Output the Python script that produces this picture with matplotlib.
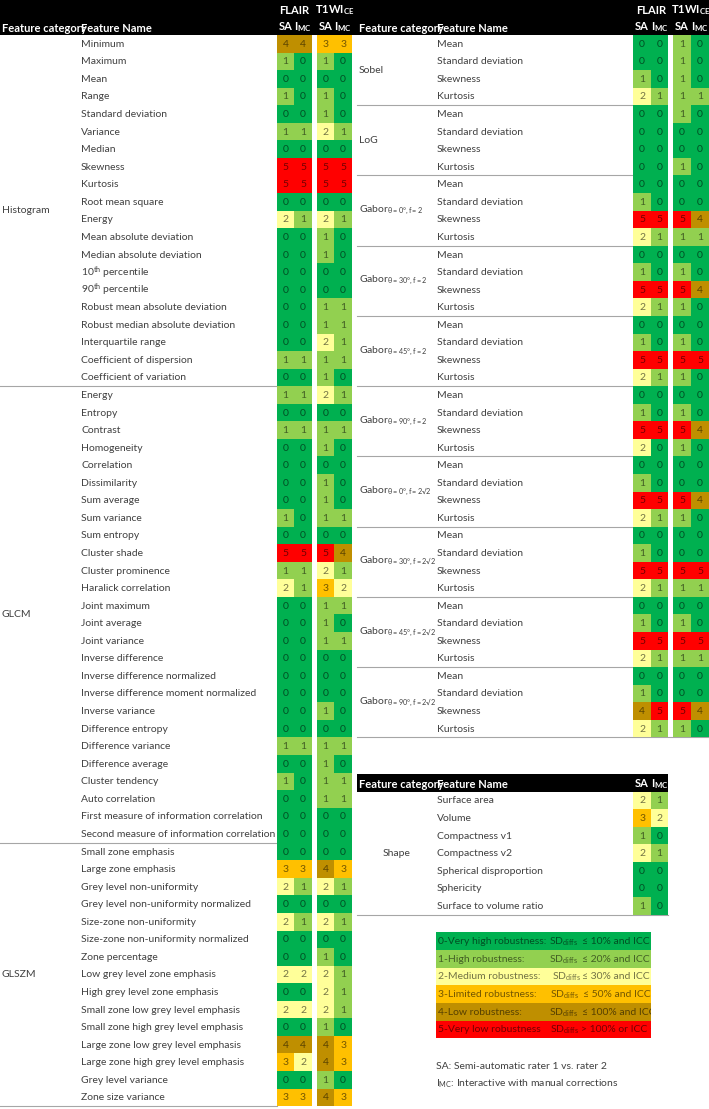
import matplotlib
matplotlib.use('Agg')
import matplotlib.pyplot as plt
from matplotlib.patches import Rectangle
from matplotlib.transforms import Bbox, TransformedBbox

plt.rcParams['font.family'] = ['Lato', 'DejaVu Sans']
plt.rcParams['mathtext.fontset'] = 'custom'
plt.rcParams['mathtext.rm'] = 'Lato'
plt.rcParams['mathtext.it'] = 'Lato:italic'
plt.rcParams['mathtext.bf'] = 'Lato:bold'

# ---------------- data ----------------
hist_names = ["Minimum", "Maximum", "Mean", "Range", "Standard deviation", "Variance", "Median",
              "Skewness", "Kurtosis", "Root mean square", "Energy", "Mean absolute deviation",
              "Median absolute deviation", r"10$^{\mathdefault{th}}$ percentile",
              r"90$^{\mathdefault{th}}$ percentile", "Robust mean absolute deviation",
              "Robust median absolute deviation", "Interquartile range",
              "Coefficient of dispersion", "Coefficient of variation"]
hist_flair_sa  = [4, 1, 0, 1, 0, 1, 0, 5, 5, 0, 2, 0, 0, 0, 0, 0, 0, 0, 1, 0]
hist_flair_imc = [4, 0, 0, 0, 0, 1, 0, 5, 5, 0, 1, 0, 0, 0, 0, 0, 0, 0, 1, 0]
hist_t1_sa     = [3, 1, 0, 1, 1, 2, 0, 5, 5, 0, 2, 1, 1, 0, 0, 1, 1, 2, 1, 1]
hist_t1_imc    = [3, 0, 0, 0, 0, 1, 0, 5, 5, 0, 1, 0, 0, 0, 0, 1, 1, 1, 1, 0]

glcm_names = ["Energy", "Entropy", "Contrast", "Homogeneity", "Correlation", "Dissimilarity",
              "Sum average", "Sum variance", "Sum entropy", "Cluster shade", "Cluster prominence",
              "Haralick correlation", "Joint maximum", "Joint average", "Joint variance",
              "Inverse difference", "Inverse difference normalized",
              "Inverse difference moment normalized", "Inverse variance", "Difference entropy",
              "Difference variance", "Difference average", "Cluster tendency", "Auto correlation",
              "First measure of information correlation", "Second measure of information correlation"]
glcm_flair_sa  = [1, 0, 1, 0, 0, 0, 0, 1, 0, 5, 1, 2, 0, 0, 0, 0, 0, 0, 0, 0, 1, 0, 1, 0, 0, 0]
glcm_flair_imc = [1, 0, 1, 0, 0, 0, 0, 0, 0, 5, 1, 1, 0, 0, 0, 0, 0, 0, 0, 0, 1, 0, 0, 0, 0, 0]
glcm_t1_sa     = [2, 0, 1, 1, 0, 1, 1, 1, 0, 5, 2, 3, 1, 1, 1, 0, 0, 0, 1, 0, 1, 1, 1, 1, 0, 0]
glcm_t1_imc    = [1, 0, 1, 0, 0, 0, 0, 1, 0, 4, 1, 2, 1, 0, 1, 0, 0, 0, 0, 0, 1, 0, 1, 1, 0, 0]

glszm_names = ["Small zone emphasis", "Large zone emphasis", "Grey level non-uniformity",
               "Grey level non-uniformity normalized", "Size-zone non-uniformity",
               "Size-zone non-uniformity normalized", "Zone percentage",
               "Low grey level zone emphasis", "High grey level zone emphasis",
               "Small zone low grey level emphasis", "Small zone high grey level emphasis",
               "Large zone low grey level emphasis", "Large zone high grey level emphasis",
               "Grey level variance", "Zone size variance"]
glszm_flair_sa  = [0, 3, 2, 0, 2, 0, 0, 2, 0, 2, 0, 4, 3, 0, 3]
glszm_flair_imc = [0, 3, 1, 0, 1, 0, 0, 2, 0, 2, 0, 4, 2, 0, 3]
glszm_t1_sa     = [0, 4, 2, 0, 2, 0, 1, 2, 2, 2, 1, 4, 4, 1, 4]
glszm_t1_imc    = [0, 3, 1, 0, 1, 0, 0, 1, 1, 1, 0, 3, 3, 0, 3]

filter_categories = ["Sobel", "LoG",
                     r"Gabor$_{\mathdefault{θ=0°,f=2}}$", r"Gabor$_{\mathdefault{θ=30°,f=2}}$",
                     r"Gabor$_{\mathdefault{θ=45°,f=2}}$", r"Gabor$_{\mathdefault{θ=90°,f=2}}$",
                     r"Gabor$_{\mathdefault{θ=0°,f=2√2}}$", r"Gabor$_{\mathdefault{θ=30°,f=2√2}}$",
                     r"Gabor$_{\mathdefault{θ=45°,f=2√2}}$", r"Gabor$_{\mathdefault{θ=90°,f=2√2}}$"]
filter_features = ["Mean", "Standard deviation", "Skewness", "Kurtosis"]
filter_flair_sa  = [0, 0, 1, 2,  0, 0, 0, 0,  0, 1, 5, 2,  0, 1, 5, 2,  0, 1, 5, 2,
                    0, 1, 5, 2,  0, 1, 5, 2,  0, 1, 5, 2,  0, 1, 5, 2,  0, 1, 4, 2]
filter_flair_imc = [0, 0, 0, 1,  0, 0, 0, 0,  0, 0, 5, 1,  0, 0, 5, 1,  0, 0, 5, 1,
                    0, 0, 5, 0,  0, 0, 5, 1,  0, 0, 5, 1,  0, 0, 5, 1,  0, 0, 5, 1]
filter_t1_sa     = [1, 1, 1, 1,  1, 0, 0, 1,  0, 0, 5, 1,  0, 1, 5, 1,  0, 1, 5, 1,
                    0, 1, 5, 1,  0, 0, 5, 1,  0, 0, 5, 1,  0, 1, 5, 1,  0, 0, 5, 1]
filter_t1_imc    = [0, 0, 0, 1,  0, 0, 0, 0,  0, 0, 4, 1,  0, 0, 4, 0,  0, 0, 5, 0,
                    0, 0, 4, 0,  0, 0, 4, 0,  0, 0, 5, 1,  0, 0, 5, 1,  0, 0, 4, 0]

shape_names = ["Surface area", "Volume", "Compactness v1", "Compactness v2",
               "Spherical disproportion", "Sphericity", "Surface to volume ratio"]
shape_sa  = [2, 3, 1, 2, 0, 0, 1]
shape_imc = [1, 2, 0, 1, 0, 0, 0]

legend_labels = ["0-Very high robustness:", "1-High robustness:", "2-Medium robustness:",
                 "3-Limited robustness:", "4-Low robustness:", "5-Very low robustness"]
legend_criteria = ["≤ 10% and ICC ≥", "≤ 20% and ICC ≥", "≤ 30% and ICC ≥",
                   "≤ 50% and ICC ≥", "≤ 100% and ICC", "> 100% or ICC <"]

# ---------------- style / layout ----------------
level_colors = ["#00B050", "#92D050", "#FFFF99", "#FFC000", "#BF8F00", "#FF0000"]
W, H = 709, 1109
HEAD_H = 35.0
ROW_H = 17.56
NAME_C = "#404040"
FS = 7.5
HFS = 8.0
SD_X = [549, 549, 551.5, 550, 549, 550]      # x of "SD" in each legend row
CRIT_GAP = [4, 4, 1.5, 4, 4, 2]              # gap between SD_diffs and criterion

def dark(c, f=0.5):
    r, g, b = matplotlib.colors.to_rgb(c)
    return (r * f, g * f, b * f)

fig = plt.figure(figsize=(W / 100, H / 100), dpi=100)
ax = fig.add_axes([0, 0, 1, 1])
ax.set_xlim(0, W)
ax.set_ylim(H, 0)
ax.axis('off')

def cell(x0, x1, y, v):
    ax.add_patch(Rectangle((x0, y), x1 - x0, ROW_H, facecolor=level_colors[v],
                           edgecolor='none', zorder=2))
    ax.text((x0 + x1) / 2, y + ROW_H / 2 + 0.5, str(v), ha='center', va='center',
            fontsize=FS, color=dark(level_colors[v], 0.45), zorder=3)

def header(x0, x1, cat_x, name_x, cols, y0=0.0, h=HEAD_H):
    ax.add_patch(Rectangle((x0, y0), x1 - x0, h, facecolor='black', edgecolor='none', zorder=1))
    ty = y0 + h - 7
    ax.text(cat_x, ty, "Feature category", color='white', fontweight='bold', fontsize=HFS,
            ha='left', va='center', zorder=3)
    ax.text(name_x, ty, "Feature Name", color='white', fontweight='bold', fontsize=HFS,
            ha='left', va='center', zorder=3)
    for i, (a, b) in enumerate(cols):
        lab = "SA" if i % 2 == 0 else r"I$_{\mathdefault{MC}}$"
        ax.text((a + b) / 2, ty - 1, lab, color='white', fontweight='bold', fontsize=HFS,
                ha='center', va='center', zorder=3)

def modality_labels(cols):
    ax.text(cols[1][0], 10, "FLAIR", color='white', fontweight='bold', fontsize=HFS,
            ha='center', va='center', zorder=3)
    ax.text(cols[3][0], 10, r"T1WI$_{\mathdefault{CE}}$", color='white', fontweight='bold',
            fontsize=HFS, ha='center', va='center', zorder=3)

# ---------------- left table ----------------
L_COLS = [(277.0, 294.3), (294.3, 311.7), (316.7, 334.3), (334.3, 352.0)]
header(0, W, 2, 81, L_COLS)
modality_labels(L_COLS)

groups = [("Histogram", hist_names, hist_flair_sa, hist_flair_imc, hist_t1_sa, hist_t1_imc),
          ("GLCM", glcm_names, glcm_flair_sa, glcm_flair_imc, glcm_t1_sa, glcm_t1_imc),
          ("GLSZM", glszm_names, glszm_flair_sa, glszm_flair_imc, glszm_t1_sa, glszm_t1_imc)]
row = 0
for cat, names, a, b, c, d in groups:
    start = row
    for i, nm in enumerate(names):
        y = HEAD_H + row * ROW_H
        ax.text(81, y + ROW_H / 2 + 0.5, nm, fontsize=FS, color=NAME_C, ha='left', va='center', zorder=1)
        for (x0, x1), vals in zip(L_COLS, (a, b, c, d)):
            cell(x0, x1, y, vals[i])
        row += 1
    ymid = HEAD_H + (start + row) / 2 * ROW_H
    ax.text(2, ymid, cat, fontsize=FS, color=NAME_C, ha='left', va='center')
    yb = HEAD_H + row * ROW_H
    ax.plot([0, 277], [yb, yb], color='#a6a6a6', lw=0.8, zorder=1)

# ---------------- right table ----------------
R_COLS = [(633.3, 651.0), (651.0, 668.3), (673.3, 691.0), (691.0, 709.0)]
header(352, W, 359, 437, R_COLS)
modality_labels(R_COLS)
nf = len(filter_features)
for g, cat in enumerate(filter_categories):
    for j, nm in enumerate(filter_features):
        k = g * nf + j
        y = HEAD_H + k * ROW_H
        ax.text(437, y + ROW_H / 2 + 0.5, nm, fontsize=FS, color=NAME_C, ha='left', va='center')
        for (x0, x1), vals in zip(R_COLS, (filter_flair_sa, filter_flair_imc, filter_t1_sa, filter_t1_imc)):
            cell(x0, x1, y, vals[k])
    ymid = HEAD_H + (g * nf + nf / 2) * ROW_H
    ax.text(359, ymid, cat, fontsize=FS, color=NAME_C, ha='left', va='center')
    yb = HEAD_H + (g + 1) * nf * ROW_H
    ax.plot([357, 633.3 if g < len(filter_categories) - 1 else W], [yb, yb],
            color='#a6a6a6', lw=0.8, zorder=1)

# ---------------- shape table ----------------
S_Y0 = 774.0
S_COLS = [(633.3, 651.0), (651.0, 668.3)]
header(357, 668.3, 359, 437, S_COLS, y0=S_Y0, h=17.7)
sy = S_Y0 + 17.7
for i, nm in enumerate(shape_names):
    y = sy + i * ROW_H
    ax.text(437, y + ROW_H / 2 + 0.5, nm, fontsize=FS, color=NAME_C, ha='left', va='center')
    for (x0, x1), vals in zip(S_COLS, (shape_sa, shape_imc)):
        cell(x0, x1, y, vals[i])
ax.text(397, sy + len(shape_names) / 2 * ROW_H, "Shape", fontsize=FS, color=NAME_C,
        ha='center', va='center')
yb = sy + len(shape_names) * ROW_H
ax.plot([357, 668.3], [yb, yb], color='#a6a6a6', lw=0.8, zorder=1)

# ---------------- legend ----------------
LX0, LX1, LY0, LH = 435.7, 651.0, 932.3, 17.67
clip = TransformedBbox(Bbox([[LX0, LY0], [LX1, LY0 + LH * len(legend_labels)]]), ax.transData)
renderer = fig.canvas.get_renderer()
inv = ax.transData.inverted()
for i, (lab, crit) in enumerate(zip(legend_labels, legend_criteria)):
    y = LY0 + i * LH
    col = level_colors[i]
    tc = dark(col, 0.45)
    ax.add_patch(Rectangle((LX0, y), LX1 - LX0, LH, facecolor=col, edgecolor='none', zorder=2))
    ax.text(437.5, y + LH / 2 + 0.5, lab, fontsize=FS, color=tc, ha='left', va='center', zorder=3)
    sd = ax.text(SD_X[i], y + LH / 2 + 0.5, r"SD$_{\mathdefault{diffs}}$", fontsize=FS, color=tc,
                 ha='left', va='center', zorder=3)
    bb = sd.get_window_extent(renderer=renderer)
    x_end = inv.transform((bb.x1, bb.y0))[0]
    t2 = ax.text(x_end + CRIT_GAP[i], y + LH / 2 + 0.5, crit, fontsize=FS, color=tc,
                 ha='left', va='center', zorder=3)
    t2.set_clip_box(clip)
    t2.set_clip_on(True)

ax.text(436, 1066.7, "SA: Semi-automatic rater 1 vs. rater 2", fontsize=FS, color=NAME_C,
        ha='left', va='center')
ax.text(436, 1083.5, r"I$_{\mathdefault{MC}}$: Interactive with manual corrections",
        fontsize=FS, color=NAME_C, ha='left', va='center')

fig.savefig("out.png", dpi=100)
